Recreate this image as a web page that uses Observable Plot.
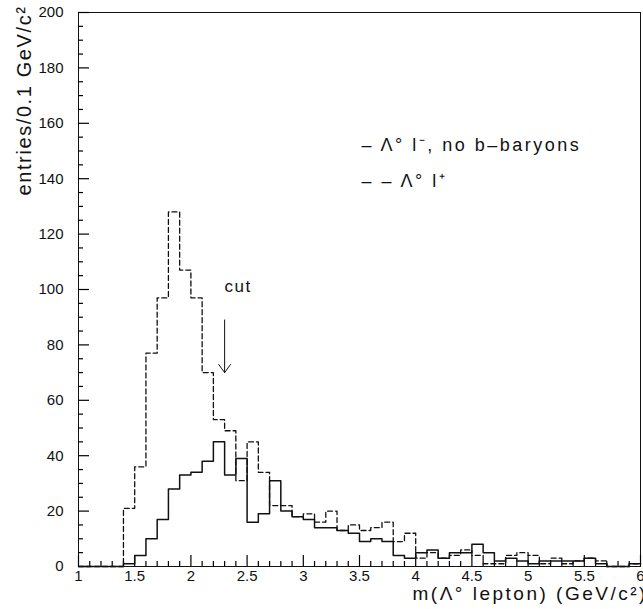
<!DOCTYPE html>
<html>
<head>
<meta charset="utf-8">
<script src="https://cdn.jsdelivr.net/npm/d3@7"></script>
<script src="https://cdn.jsdelivr.net/npm/@observablehq/plot@0.6"></script>
<style>
  html, body { margin: 0; padding: 0; background: #fff; }
  #chart svg { display: block; }
</style>
</head>
<body>
<div id="chart"></div>
<script>
// Lower edges of the 0.1 GeV/c² mass bins
const binLow = [
  1.0, 1.1, 1.2, 1.3, 1.4, 1.5, 1.6, 1.7, 1.8, 1.9,
  2.0, 2.1, 2.2, 2.3, 2.4, 2.5, 2.6, 2.7, 2.8, 2.9,
  3.0, 3.1, 3.2, 3.3, 3.4, 3.5, 3.6, 3.7, 3.8, 3.9,
  4.0, 4.1, 4.2, 4.3, 4.4, 4.5, 4.6, 4.7, 4.8, 4.9,
  5.0, 5.1, 5.2, 5.3, 5.4, 5.5, 5.6, 5.7, 5.8, 5.9
];
const massMin = 1.0;
const massMax = 6.0;

// Λ° l⁻ pairs, no b-baryons (solid histogram)
const lambdaLminus = [
  0, 0, 0, 0, 1, 4, 10, 17, 28, 33,
  34, 38, 45, 33, 39, 16, 19, 31, 20, 18,
  17, 14, 14, 13, 12, 9, 10, 9, 4, 3,
  5, 6, 3, 5, 5, 8, 5, 2, 3, 2,
  1, 2, 2, 2, 2, 3, 1, 0, 0, 1
];

// Λ° l⁺ pairs (dashed histogram)
const lambdaLplus = [
  0, 0, 0, 0, 21, 36, 77, 97, 128, 107,
  97, 70, 53, 49, 31, 45, 34, 22, 22, 18,
  19, 16, 20, 13, 15, 13, 14, 16, 9, 12,
  3, 5, 3, 4, 6, 4, 1, 1, 4, 5,
  4, 1, 3, 1, 2, 3, 2, 0, 0, 1
];

// Axis ticks
const yMajor = [0, 20, 40, 60, 80, 100, 120, 140, 160, 180, 200];
const yMinor = d3.range(0, 201, 5).filter(v => v % 20 !== 0);
const xMajor = [1, 1.5, 2, 2.5, 3, 3.5, 4, 4.5, 5, 5.5, 6];
const xMinor = d3.range(10, 61).map(v => v / 10).filter(v => Math.round(v * 10) % 5 !== 0);

// Selection cut on the Λ°-lepton mass
const cutMass = 2.3;
const cutArrowTop = 89;
const cutArrowTip = 70;
const cutLabelY = 101;

const legendLines = ["– Λ° l⁻, no b–baryons", "– – Λ° l⁺"];
const yTitle = "entries/0.1 GeV/c²";
const xTitle = "m(Λ° lepton) (GeV/c²)";

// Histogram outline: each bin's lower edge, closed at the upper end of the range
function outline(values) {
  const pts = binLow.map((x, i) => ({x, y: values[i]}));
  pts.push({x: massMax, y: values[values.length - 1]});
  return pts;
}

const W = 643, H = 609;
const M = {left: 78, right: 3, top: 12, bottom: 43};
const frameW = W - M.left - M.right;
const frameH = H - M.top - M.bottom;
// data units per pixel, for tick lengths given in pixels
const xPerPx = (massMax - massMin) / frameW;
const yPerPx = 200 / frameH;
const majorLen = 11, minorLen = 5;

// widen the glyph spacing of a text mark
const spaced = (ls) => ({
  render(index, scales, values, dimensions, context, next) {
    const g = next(index, scales, values, dimensions, context);
    g.setAttribute("letter-spacing", ls);
    return g;
  }
});

const font = "'Liberation Sans', Arial, Helvetica, sans-serif";
const ink = "#111";
const tickStyle = {stroke: "#000", strokeWidth: 1.2};

const chart = Plot.plot({
  width: W,
  height: H,
  marginLeft: M.left,
  marginRight: M.right,
  marginTop: M.top,
  marginBottom: M.bottom,
  style: {fontFamily: font, fontSize: "15px", color: ink, background: "#fff"},
  x: {domain: [massMin, massMax], label: null},
  y: {domain: [0, 200], label: null},
  marks: [
    // tick labels
    Plot.axisY(yMajor, {tickSize: 0, tickPadding: 15, label: null, fill: ink}),
    Plot.axisX(xMajor, {tickSize: 0, tickPadding: 4, label: null, fill: ink,
      tickFormat: d3.format("~g")}),

    Plot.frame({stroke: ink, strokeWidth: 1}),

    // short ticks pointing into the frame
    Plot.ruleY(yMinor, {y: d => d, x1: massMin, x2: massMin + minorLen * xPerPx, ...tickStyle}),
    Plot.ruleY(yMajor, {y: d => d, x1: massMin, x2: massMin + majorLen * xPerPx, ...tickStyle}),
    Plot.ruleX(xMinor, {x: d => d, y1: 0, y2: minorLen * yPerPx, ...tickStyle}),
    Plot.ruleX(xMajor, {x: d => d, y1: 0, y2: majorLen * yPerPx, ...tickStyle}),

    Plot.line(outline(lambdaLplus), {
      x: "x", y: "y", curve: "step-after",
      stroke: ink, strokeWidth: 1.3, strokeDasharray: "5,3"
    }),
    Plot.line(outline(lambdaLminus), {
      x: "x", y: "y", curve: "step-after",
      stroke: ink, strokeWidth: 1.5
    }),

    // cut marker
    Plot.arrow([{x: cutMass, y1: cutArrowTop, y2: cutArrowTip}], {
      x: "x", y1: "y1", y2: "y2",
      stroke: ink, strokeWidth: 1, headLength: 15, headAngle: 72
    }),
    Plot.text(["cut"], {
      x: cutMass, y: cutLabelY, textAnchor: "start", lineAnchor: "middle",
      fontSize: 17, fill: ink, ...spaced("1.5px")
    }),

    // legend
    Plot.text([legendLines[0]], {
      frameAnchor: "top-left", dx: 283, dy: 133, textAnchor: "start", lineAnchor: "middle",
      fontSize: 18, fill: ink, ...spaced("2.5px")
    }),
    Plot.text([legendLines[1]], {
      frameAnchor: "top-left", dx: 283, dy: 169, textAnchor: "start", lineAnchor: "middle",
      fontSize: 18, fill: ink, ...spaced("2.5px")
    }),

    // axis titles
    Plot.text([yTitle], {
      frameAnchor: "top-left", dx: -54, dy: -7, rotate: -90,
      textAnchor: "end", lineAnchor: "middle", fontSize: 20, fill: ink,
      ...spaced("1.6px")
    }),
    Plot.text([xTitle], {
      frameAnchor: "bottom-left", dx: 334, dy: 27, textAnchor: "start", lineAnchor: "middle",
      fontSize: 19, fill: ink, ...spaced("2.5px")
    })
  ]
});

document.getElementById("chart").appendChild(chart);
</script>
</body>
</html>
